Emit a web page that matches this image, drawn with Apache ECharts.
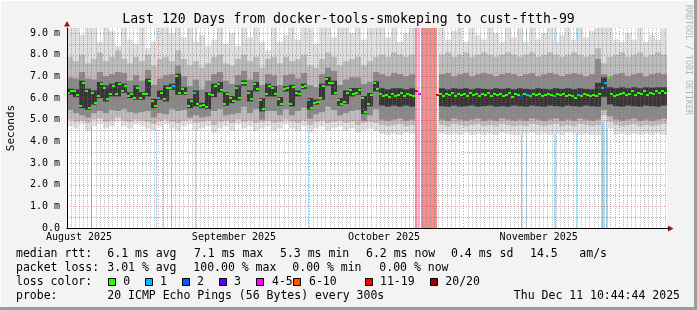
<!DOCTYPE html>
<html><head><meta charset="utf-8">
<script src="https://cdn.jsdelivr.net/npm/echarts@6.0.0/dist/echarts.min.js"></script>
<style>html,body{margin:0;padding:0;background:#f3f3f3;overflow:hidden}#chart{width:697px;height:310px}</style>
</head><body><div id="chart"></div>
<script>
// ---------------- data ----------------
const titleText = 'Last 120 Days from docker-tools-smokeping to cust-ftth-99';
const yTickLabels = ['0.0','1.0 m','2.0 m','3.0 m','4.0 m','5.0 m','6.0 m','7.0 m','8.0 m','9.0 m'];
const monthLabels = ['August 2025','September 2025','October 2025','November 2025'];
const monthLabelDays = [2.4, 33.4, 63.4, 94.35];
const monthGridDays = [18.26, 48.34, 79.26, 110.34];

// median rtt (ms), one value per 0.6 day column
const median = [
6.25,6.33,6.30,6.14,5.63,6.70,6.33,5.55,6.25,5.79,
6.10,6.64,6.48,5.94,6.17,6.56,6.17,6.64,6.33,6.56,
6.10,6.17,6.02,6.48,6.02,6.17,6.17,6.79,5.86,5.63,
6.02,6.25,5.94,6.48,6.48,6.56,7.02,6.25,6.40,6.25,
5.63,5.86,6.25,5.71,5.63,5.68,5.59,6.17,6.14,6.56,
6.64,6.36,5.74,6.17,5.99,5.86,6.48,5.99,6.67,6.71,
6.25,5.94,6.64,6.40,5.90,5.48,6.17,6.56,6.45,6.17,
5.94,5.74,6.40,6.45,5.71,6.51,6.25,6.17,6.51,6.56,
5.90,5.56,5.79,5.83,6.02,6.56,6.87,6.67,6.70,6.25,
5.90,5.74,5.83,6.25,6.36,6.17,6.25,6.36,5.99,5.37,
5.71,6.13,6.67,6.40,6.20,6.10,6.15,6.05,6.20,6.10,
6.15,6.25,6.10,6.20,6.15,6.10,6.30,6.20,null,null,
null,null,null,6.15,6.20,6.10,6.20,6.15,6.25,6.10,
6.20,6.15,6.20,6.10,6.25,6.15,6.20,6.10,6.20,6.15,
6.25,6.10,6.20,6.15,6.20,6.10,6.15,6.25,6.05,6.20,
6.15,6.10,6.20,6.15,6.10,6.20,6.15,6.20,6.10,6.15,
6.20,6.15,6.10,6.20,6.15,6.20,6.10,6.15,6.10,6.00,
6.15,6.10,6.20,6.15,6.10,6.15,6.10,6.20,6.45,6.70,
6.90,6.20,6.10,6.15,6.20,6.25,6.15,6.20,6.30,6.15,
6.25,6.20,6.30,6.15,6.25,6.20,6.30,6.25,6.30,6.25
];
// [median column, loss class]
const medianLoss = [[30,1],[35,1],[42,1],[80,1],[116,6],[117,4],[123,6],[151,2],[153,1],[162,1],[170,1],[178,1],[179,1]];

// smoke bands (ms), one value per 1.2 day column
const outerLo = [
4.7,4.6,4.8,4.5,4.7,4.8,4.6,4.7,4.9,4.7, 4.6,4.8,4.7,4.6,4.5,4.7,4.8,4.6,4.5,4.7,
4.8,4.5,4.6,4.7,4.4,4.6,4.7,4.5,4.8,4.6, 4.7,4.5,4.6,4.7,4.5,4.6,4.8,4.6,4.5,4.7,
4.4,4.6,4.7,4.5,4.6,4.7,4.5,4.6,4.4,4.5, 4.6,4.5,
4.35,4.3,4.35,4.3,4.4,4.35, null,null,null,null,
4.35,4.3,4.35,4.3,4.4,4.3,4.35,4.3,4.35,4.3, 4.4,4.35,4.3,4.3,4.35,4.4,4.3,4.35,4.3,4.35,
4.3,4.4,4.35,4.3,4.35,4.3,4.3,4.9,4.6,4.3, 4.35,4.3,4.35,4.3,4.35,4.3,4.35,4.3];
const outerHi = [
9.5,9.5,8.9,9.5,9.5,8.6,9.5,9.1,8.4,9.5, 8.7,8.5,9.5,8.3,8.6,9.5,9.5,9.0,9.5,8.8,
9.5,8.6,8.9,8.4,8.7,9.5,8.5,9.0,8.4,9.5, 8.8,9.5,8.6,8.2,9.5,8.6,8.9,9.5,8.7,9.5,
9.2,8.5,9.5,9.5,8.8,9.5,9.5,9.0,9.5,8.7, 9.5,9.5,
9.5,8.8,9.5,8.6,9.0,9.5, null,null,null,null,
9.5,8.7,9.1,9.5,8.6,9.5,8.9,8.7,9.5,9.0, 8.6,9.5,8.8,9.2,8.6,9.5,8.7,9.0,9.5,8.6,
8.9,9.5,8.7,9.5,8.8,9.1,9.5,9.5,9.5,8.7, 8.6,9.0,8.7,9.3,8.6,8.9,8.7,9.2];
const midLo = [
5.0,4.9,4.95,4.85,5.0,5.05,4.9,4.95,5.1,4.95, 4.9,5.0,4.95,4.9,4.8,4.95,5.0,4.9,4.85,4.95,
5.0,4.85,4.9,4.95,4.75,4.9,4.95,4.85,5.0,4.9, 4.95,4.85,4.9,4.95,4.85,4.9,5.0,4.9,4.85,4.95,
4.75,4.9,4.95,4.85,4.9,4.95,4.85,4.9,4.75,4.85, 4.9,4.85,
4.75,4.7,4.75,4.8,4.7,4.75, null,null,null,null,
4.75,4.7,4.8,4.75,4.7,4.75,4.8,4.7,4.75,4.7, 4.8,4.75,4.7,4.75,4.7,4.8,4.75,4.7,4.75,4.8,
4.7,4.75,4.7,4.8,4.75,4.7,4.75,5.2,4.9,4.75, 4.7,4.75,4.8,4.7,4.75,4.7,4.75,4.8];
const midHi = [
7.9,7.7,8.0,7.6,7.8,8.1,7.7,7.9,8.2,7.8, 7.6,7.9,7.7,8.0,7.5,7.8,7.9,7.7,8.2,7.8,
7.5,7.7,7.4,7.6,7.9,8.0,7.6,7.5,7.8,8.0, 7.7,7.9,7.4,7.8,7.9,7.6,7.9,7.7,7.8,8.0,
7.5,7.4,7.8,8.1,7.9,7.5,7.7,7.8,7.9,7.5, 7.7,7.9,
8.0,7.9,8.1,8.0,7.9,8.0, null,null,null,null,
8.0,8.1,7.9,8.0,8.1,7.9,8.0,8.1,8.0,7.9, 8.0,8.1,8.0,7.9,8.0,8.1,7.9,8.0,8.1,8.0,
7.9,8.0,8.1,8.0,7.9,8.0,8.3,7.6,7.9,8.0, 8.1,7.9,8.0,8.1,7.9,8.0,8.1,8.0];
const innerLo = [
5.45,5.3,5.2,5.1,5.3,5.4,5.3,5.45,5.4,5.5, 5.35,5.3,5.35,5.4,5.1,5.3,5.25,5.5,5.4,5.45,
5.1,5.2,5.1,5.15,5.4,5.5,5.2,5.25,5.3,5.6, 5.3,5.5,5.0,5.4,5.4,5.2,5.5,5.2,5.4,5.55,
5.05,5.25,5.35,5.6,5.45,5.2,5.3,5.4,5.45,4.95, 5.2,5.5,
5.0,4.95,5.0,5.05,4.95,5.0, null,null,null,null,
5.0,4.95,5.05,5.0,4.95,5.0,5.05,4.95,5.0,4.95, 5.05,5.0,4.95,5.0,4.95,5.05,5.0,4.95,5.0,5.05,
4.95,5.0,4.95,5.05,5.0,4.95,5.0,5.45,5.15,5.0, 4.95,5.0,5.05,4.95,5.0,4.95,5.0,5.05];
const innerHi = [
6.95,6.9,7.2,6.9,6.85,7.2,7.0,7.1,7.2,7.15, 6.8,7.05,6.8,7.3,6.6,6.9,7.05,7.1,7.5,7.0,
6.55,6.85,6.4,6.8,7.1,7.2,6.8,6.65,7.05,7.25, 6.85,7.2,6.6,7.1,7.05,6.6,7.05,7.1,6.9,7.15,
6.6,6.5,7.1,7.4,7.25,6.6,6.85,6.95,6.95,6.65, 6.75,7.2,
7.1,7.0,7.15,7.1,7.0,7.1, null,null,null,null,
7.1,7.15,7.0,7.1,7.15,7.0,7.1,7.15,7.1,7.0, 7.1,7.15,7.1,7.0,7.1,7.15,7.0,7.1,7.15,7.1,
7.0,7.1,7.15,7.1,7.0,7.1,7.8,7.1,7.0,7.1, 7.15,7.0,7.1,7.15,7.0,7.1,7.15,7.1];
const coreLo = [
6.15,6.04,5.53,5.45,5.69,6.00,5.84,6.07,6.07,6.23, 6.00,5.92,5.92,6.07,5.53,5.92,5.84,6.38,6.15,6.15,
5.53,5.61,5.53,5.49,6.04,6.26,5.64,5.76,5.89,6.57, 5.84,6.30,5.38,6.07,6.07,5.64,6.30,5.61,6.07,6.41,
5.46,5.69,5.92,6.57,6.15,5.64,5.73,6.07,6.15,5.27, 5.61,6.30,
5.65,5.6,5.65,5.6,5.65,5.6, null,null,null,null,
5.62,5.6,5.65,5.6,5.62,5.65,5.6,5.62,5.65,5.6, 5.62,5.6,5.65,5.62,5.6,5.65,5.62,5.6,5.65,5.62,
5.6,5.65,5.62,5.6,5.65,5.62,5.6,6.05,5.7,5.62, 5.6,5.65,5.62,5.6,5.65,5.62,5.6,5.65];
const coreHi = [
6.43,6.40,6.80,6.43,6.35,6.74,6.58,6.66,6.74,6.66, 6.27,6.58,6.27,6.89,5.96,6.35,6.58,6.66,7.12,6.50,
5.96,6.35,5.78,6.27,6.66,6.74,6.27,6.09,6.58,6.81, 6.35,6.74,6.00,6.66,6.55,6.04,6.55,6.61,6.35,6.66,
6.00,5.93,6.66,6.97,6.80,6.00,6.35,6.46,6.46,6.09, 6.23,6.77,
6.45,6.4,6.45,6.45,6.4,6.45, null,null,null,null,
6.45,6.4,6.45,6.42,6.45,6.4,6.45,6.42,6.4,6.45, 6.42,6.45,6.4,6.45,6.42,6.4,6.45,6.42,6.4,6.45,
6.42,6.45,6.4,6.45,6.42,6.4,6.7,6.95,6.5,6.45, 6.5,6.45,6.5,6.45,6.5,6.48,6.5,6.5];

// loss background bars: [startDay, endDay, lossClass]
const lossBars = [[4.8,5.0,3],[17.8,18.0,1],[19.2,19.4,1],[20.8,21.0,1],[25.6,25.8,1],[48.2,48.4,1],
  [69.6,70.0,6],[70.2,70.6,4],[70.8,74.0,6],[90.8,91.0,2],[91.8,92.0,1],[97.4,97.8,1],[101.8,102.0,1],
  [106.8,107.6,1],[107.8,108.2,1]];
const lossClasses = ['0','1','2','3','4-5','6-10','11-19','20/20'];
const lossColors = ['#26ff00','#00b8ff','#0059ff','#5e00ff','#ff00ff','#ff5500','#ff0000','#a10000'];
const lossBgColors = ['#c0ffb0','#a2def8','#a8baf6','#c4a6f4','#f6a6f6','#ffbb99','#ff8a8a','#d08080'];

const statsRtt = ['median rtt:','6.1 ms avg','7.1 ms max','5.3 ms min','6.2 ms now','0.4 ms sd','14.5','am/s'];
const statsLoss = ['packet loss:','3.01 % avg','100.00 % max','0.00 % min','0.00 % now'];
const probeText = ['probe:','20 ICMP Echo Pings (56 Bytes) every 300s','Thu Dec 11 10:44:44 2025'];

// ---------------- chart ----------------
const chart = echarts.init(document.getElementById('chart'), null, {width:697, height:310});
const FONT = 'DejaVu Sans Mono';
const MED_W = 0.6, SMOKE_W = 1.2, Y_MAX = 9.23;

const lossMap = {}; medianLoss.forEach(([i,c]) => lossMap[i] = c);
const medData = []; median.forEach((v,i) => { if (v != null) medData.push([i*MED_W, v, lossMap[i] || 0]); });

function clipRect(r, cs){ return echarts.graphic.clipRectByRect(r, {x:cs.x, y:cs.y, width:cs.width, height:cs.height}); }
function bandSeries(lo, hi, color){
  const data = [];
  lo.forEach((l,j) => { if (l != null && hi[j] != null) data.push([j*SMOKE_W, l, hi[j]]); });
  return {type:'custom', silent:true, data, renderItem:(p, api) => {
    const x0 = api.value(0), l = api.value(1), h = api.value(2);
    const a = api.coord([x0, h]), b = api.coord([x0 + SMOKE_W, l]);
    const shape = clipRect({x:a[0], y:a[1], width:b[0]-a[0], height:b[1]-a[1]}, p.coordSys);
    return shape ? {type:'rect', shape, style:{fill:color}} : null;
  }};
}

// grid line positions
const vLines = monthGridDays.map(d => [d, 0, 1]);
const step0 = (monthGridDays[1]-monthGridDays[0]) / 36;
for (let d = monthGridDays[0]-step0; d > 0.3; d -= step0) vLines.push([d, 0, 0]);
for (let k = 0; k < monthGridDays.length-1; k++) {
  const a = monthGridDays[k], b = monthGridDays[k+1], n = Math.round((b-a)/step0);
  for (let m = 1; m < n; m++) vLines.push([a + (b-a)*m/n, 0, 0]);
}
for (let d = monthGridDays[monthGridDays.length-1]+step0; d < 119.7; d += step0) vLines.push([d, 0, 0]);
const hLines = [];
for (let v = 0.5; v < Y_MAX; v += 0.5) hLines.push([0, v, Number.isInteger(v) ? 1 : 0]);

const MAJ = 'rgba(230,40,40,0.55)', MIN = 'rgba(120,120,120,0.5)';

const series = [
  {type:'custom', silent:true, data:lossBars, renderItem:(p, api) => {
    const a = api.coord([api.value(0), Y_MAX]), b = api.coord([api.value(1), 0]);
    return {type:'rect', shape:{x:a[0], y:a[1], width:b[0]-a[0], height:b[1]-a[1]}, style:{fill:lossBgColors[api.value(2)]}};
  }},
  bandSeries(outerLo, outerHi, '#dfdfdf'),
  bandSeries(midLo, midHi, '#bcbcbc'),
  bandSeries(innerLo, innerHi, '#8a8a8a'),
  bandSeries(coreLo, coreHi, '#363636'),
  {type:'custom', silent:true, data:vLines, renderItem:(p, api) => {
    const cs = p.coordSys, x = Math.round(api.coord([api.value(0), 0])[0]) + 0.5, maj = api.value(2);
    return {type:'line', shape:{x1:x, y1:cs.y, x2:x, y2:cs.y+cs.height}, style:{stroke:maj?MAJ:MIN, lineWidth:1, lineDash:maj?[1,2]:[1,1]}};
  }},
  {type:'custom', silent:true, data:hLines, renderItem:(p, api) => {
    const cs = p.coordSys, y = Math.round(api.coord([0, api.value(1)])[1]) + 0.5, maj = api.value(2);
    return {type:'line', shape:{x1:cs.x, y1:y, x2:cs.x+cs.width, y2:y}, style:{stroke:maj?MAJ:MIN, lineWidth:1, lineDash:maj?[1,2]:[1,1]}};
  }},
  {type:'custom', silent:true, data:medData, renderItem:(p, api) => {
    const a = api.coord([api.value(0), api.value(1)]), b = api.coord([api.value(0) + MED_W, api.value(1)]);
    return {type:'rect', shape:{x:a[0], y:Math.round(a[1]) - 1, width:b[0]-a[0], height:2}, style:{fill:lossColors[api.value(2)]}};
  }},
  {type:'custom', silent:true, data:monthLabelDays.map((d,i) => [d, 0, i]), renderItem:(p, api) => {
    const a = api.coord([api.value(0), 0]);
    return {type:'text', x:a[0], y:a[1] + 9.5, style:{text:monthLabels[api.value(2)], fontFamily:FONT, fontSize:10, fill:'#000', align:'center', verticalAlign:'middle'}};
  }}
];

const graphic = [];
function txt(x, y, text, size, opts){ graphic.push(Object.assign({type:'text', x, y, silent:true, style:Object.assign({text, fontFamily:FONT, fontSize:size, fill:'#000', align:'left', verticalAlign:'middle'}, opts||{})})); }
txt(348.5, 19.5, titleText, 13.2, {align:'center'});
graphic.push({type:'text', x:11, y:128, rotation:Math.PI/2, style:{text:'Seconds', fontFamily:FONT, fontSize:11, fill:'#000', align:'center', verticalAlign:'middle'}});
graphic.push({type:'text', x:688, y:60, rotation:-Math.PI/2, style:{text:'RRDTOOL / TOBI OETIKER', fontFamily:FONT, fontSize:8.3, fill:'#b4b4b4', align:'center', verticalAlign:'middle'}});
const LF = 11.5;
[16,107.3,194,280,366,451,530,579.3].forEach((x,i) => txt(x, 254.5, statsRtt[i], LF));
[16,107.3,193.3,292.3,379.3].forEach((x,i) => txt(x, 268.5, statsLoss[i], LF));
txt(16, 282.5, 'loss color:', LF);
const boxX = [108.5,145.5,182.5,219.5,256.5,293.5,365.5,430.5];
const lblX = [123.3,160,197,234,272,309,380,445.3];
lossClasses.forEach((c,i) => {
  graphic.push({type:'rect', silent:true, shape:{x:boxX[i], y:278.5, width:7, height:7}, style:{fill:lossColors[i], stroke:'#000', lineWidth:1}});
  txt(lblX[i], 282.5, c, LF);
});
txt(16, 296.5, probeText[0], LF);
txt(107.3, 296.5, probeText[1], LF);
txt(680, 296.5, probeText[2], LF, {align:'right'});
// axis arrows and frame
graphic.push({type:'polygon', silent:true, shape:{points:[[64,26.5],[70,26.5],[67,21]]}, style:{fill:'#a01010'}});
graphic.push({type:'polygon', silent:true, shape:{points:[[668,225.5],[668,231.5],[673.5,228.5]]}, style:{fill:'#a01010'}});
graphic.push({type:'line', silent:true, shape:{x1:667, y1:228.5, x2:669, y2:228.5}, style:{stroke:'#000', lineWidth:1}});
graphic.push({type:'line', silent:true, shape:{x1:0, y1:0.5, x2:697, y2:0.5}, style:{stroke:'#ffffff', lineWidth:1}});
graphic.push({type:'line', silent:true, shape:{x1:0.5, y1:0, x2:0.5, y2:310}, style:{stroke:'#ffffff', lineWidth:1}});
graphic.push({type:'line', silent:true, shape:{x1:0, y1:308.5, x2:697, y2:308.5}, style:{stroke:'#9c9c9c', lineWidth:3}});
graphic.push({type:'line', silent:true, shape:{x1:695.5, y1:0, x2:695.5, y2:310}, style:{stroke:'#9c9c9c', lineWidth:3}});

chart.setOption({
  animation:false,
  backgroundColor:'#f3f3f3',
  grid:{left:67, top:28, width:600, height:200, show:true, backgroundColor:'#ffffff', borderWidth:0},
  xAxis:{type:'value', min:0, max:120, z:10, axisLine:{show:true, lineStyle:{color:'#000', width:1}}, axisTick:{show:false}, axisLabel:{show:false}, splitLine:{show:false}},
  yAxis:{type:'value', min:0, max:Y_MAX, interval:1, z:10, axisLine:{show:true, lineStyle:{color:'#000', width:1}}, axisTick:{show:false}, splitLine:{show:false},
    axisLabel:{fontFamily:FONT, fontSize:10, color:'#000', margin:7, formatter:v => Number.isInteger(v) ? (yTickLabels[v] || '') : ''}},
  series,
  graphic
});
</script></body></html>
